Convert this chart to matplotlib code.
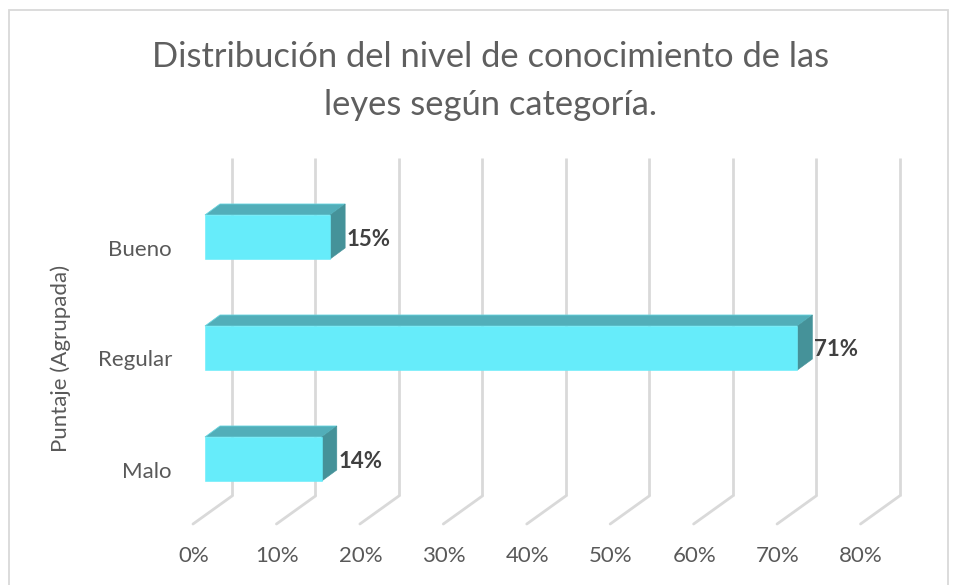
import matplotlib
matplotlib.use('Agg')
import matplotlib.pyplot as plt
from matplotlib.patches import Polygon, Rectangle
from matplotlib.transforms import Affine2D

plt.rcParams['font.family'] = ['Lato', 'DejaVu Sans']

categories = ['Malo', 'Regular', 'Bueno']
values = [14, 71, 15]
ticks = [0, 10, 20, 30, 40, 50, 60, 70, 80]
title_lines = ['Distribución del nivel de conocimiento de las', 'leyes según categoría.']

W, H = 960, 585
fig = plt.figure(figsize=(W / 100, H / 100), dpi=100)

# frame of the chart area
fig.add_artist(Rectangle((8.5 / W, -0.01), 939 / W, 1 - 10 / H + 0.01, transform=fig.transFigure,
                         fill=False, ec='#d9d9d9', lw=1.3))

# axes: x in percent, one unit of y per category
ax = fig.add_axes([205 / W, 1 - 514.5 / H, 667.5 / W, 333 / H])
ax.set_xlim(0, 80)
ax.set_ylim(-0.5, 2.5)
ax.axis('off')


def off(dx, dy):
    # offset in pixels on top of the data coordinates
    return ax.transData + Affine2D().translate(dx, dy)


# back wall and floor lines
wall_top = 2.5 + 23.5 / 111
for t in ticks:
    ax.plot([t, t], [-0.5 + 18.5 / 111, wall_top], transform=off(27, 0), color='#d9d9d9', lw=2,
            clip_on=False, solid_capstyle='butt', zorder=1)
    ax.plot([t, t + 39 / 8.344], [-0.5 - 9.5 / 111, -0.5 + 18.5 / 111], transform=off(-12, 0),
            color='#d9d9d9', lw=2, clip_on=False, solid_capstyle='round', zorder=1)
    ax.annotate(f'{t}%', (t, -0.5), xytext=(-11.5, -41.5), textcoords='offset pixels', ha='center',
                va='center', fontsize=16, color='#595959', annotation_clip=False)

# bars with their 3d top and side
dx_px, dy_px = 15, 11
ux, uy = dx_px / 8.344, dy_px / 111
half = 22 / 111
for i, (c, v) in enumerate(zip(categories, values)):
    ax.add_patch(Polygon([(0, i + half), (v, i + half), (v + ux, i + half + uy), (ux, i + half + uy)],
                         closed=True, fc='#52aeb9', ec='#66d4de', lw=0.6, zorder=3, clip_on=False))
    ax.add_patch(Polygon([(v, i - half), (v + ux, i - half + uy), (v + ux, i + half + uy), (v, i + half)],
                         closed=True, fc='#459299', ec='#459299', lw=0.4, zorder=3, clip_on=False))
    ax.add_patch(Rectangle((0, i - half), v, 2 * half, fc='#66ecfa', ec='#66ecfa', lw=0.4, zorder=4,
                           clip_on=False))
    ax.annotate(f'{v}%', (v, i), xytext=(16.5, -2), textcoords='offset pixels', ha='left', va='center',
                fontsize=16, fontweight='bold', color='#404040', zorder=5, annotation_clip=False)
    ax.annotate(c, (0, i), xytext=(-33, -12.5), textcoords='offset pixels', ha='right', va='center',
                fontsize=16, color='#595959', annotation_clip=False)

fig.text(61 / W, 1 - 358 / H, 'Puntaje (Agrupada)', rotation=90, ha='center', va='center',
         fontsize=16, color='#595959')
# title drawn line by line to keep the wide line gap
fig.text(490.5 / W, 1 - 57 / H, title_lines[0], ha='center', va='center', fontsize=24.8,
         color='#5f5f5f')
fig.text(490.5 / W, 1 - 105 / H, title_lines[1], ha='center', va='center', fontsize=24.8,
         color='#5f5f5f')

fig.savefig('out.png', dpi=100, facecolor='white')
